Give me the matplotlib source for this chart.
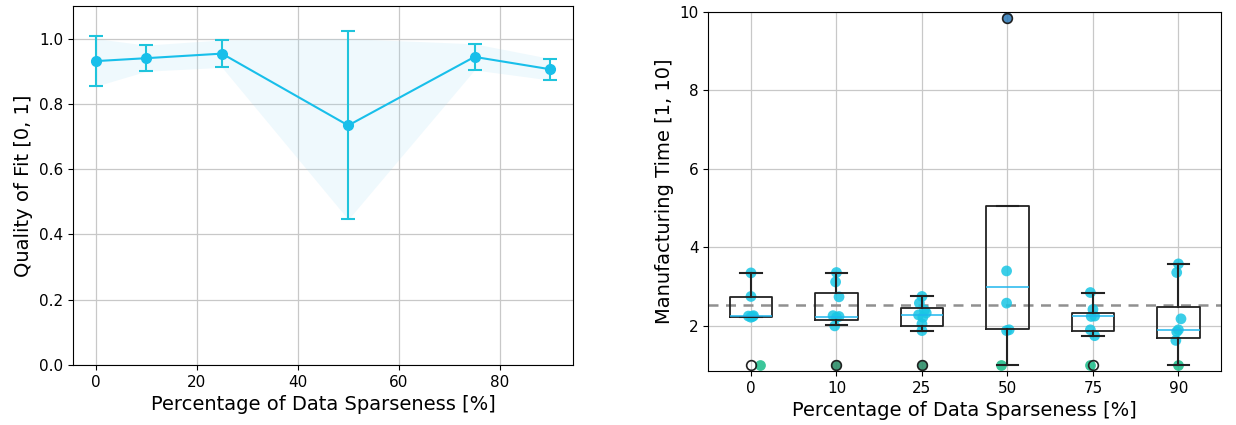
import matplotlib
matplotlib.use("Agg")
import matplotlib.pyplot as plt
import numpy as np

# ---- Left panel data: quality of fit ----
sparseness = [0, 10, 25, 50, 75, 90]
fit_mean = [0.931, 0.940, 0.954, 0.734, 0.944, 0.906]
fit_err = [0.077, 0.040, 0.042, 0.288, 0.040, 0.033]

# ---- Right panel data: manufacturing time box statistics ----
box_labels = ["0", "10", "25", "50", "75", "90"]
q1 = [2.22, 2.14, 2.00, 1.92, 1.87, 1.70]
med = [2.24, 2.23, 2.28, 2.99, 2.26, 1.90]
q3 = [2.74, 2.85, 2.45, 5.05, 2.32, 2.48]
whislo = [2.22, 2.01, 1.88, 1.00, 1.73, 1.00]
whishi = [3.35, 3.35, 2.75, 5.05, 2.85, 3.58]
fliers = [[1.0], [1.0], [1.0], [9.85], [1.0], []]

# individual runs (scatter)
points = [
    [3.35, 2.75, 2.25, 2.24, 2.22, 2.26],
    [3.36, 3.12, 2.74, 2.26, 2.24, 2.22, 2.0],
    [2.75, 2.58, 2.40, 2.33, 2.28, 2.22, 2.05, 1.88],
    [3.40, 2.58, 1.90, 1.88, 9.85],
    [2.85, 2.42, 2.25, 2.24, 1.90, 1.75],
    [3.58, 3.36, 2.18, 1.90, 1.85, 1.63],
]
jitter = [
    [0.0, 0.0, -0.03, 0.02, 0.0, 0.03],
    [0.0, -0.01, 0.03, -0.04, 0.03, 0.0, -0.02],
    [0.0, -0.03, 0.03, 0.05, -0.04, 0.01, 0.0, 0.0],
    [-0.01, -0.01, 0.02, -0.01, 0.0],
    [-0.03, 0.0, 0.02, -0.02, -0.03, 0.02],
    [0.0, -0.02, 0.03, 0.0, -0.02, -0.03],
]
low_points = [1.0, 1.0, 1.0, 1.0, 1.0, 1.0]
low_jitter = [0.1, 0.0, 0.0, -0.07, -0.03, 0.0]
baseline = 2.53

line_col = "#18bfea"
err_col = "#1fc4dc"
dot_col = "#19c6e4"

fig = plt.figure(figsize=(12.36, 4.25), dpi=100)
ax1 = fig.add_axes([0.059, 0.141, 0.4046, 0.845])
ax2 = fig.add_axes([0.573, 0.127, 0.415, 0.845])

# Left panel
x = np.array(sparseness, dtype=float)
m = np.array(fit_mean)
e = np.array(fit_err)
ax1.fill_between(x, m - e, np.minimum(m + e, 1.0), color="#9ddcf5", alpha=0.16, lw=0)
ax1.errorbar(x, m, yerr=e, color=line_col, ecolor=err_col, marker="o", markersize=7,
             capsize=5, capthick=1.5, elinewidth=1.5, lw=1.5, zorder=3)
ax1.set_ylim(0, 1.1)
ax1.set_yticks([0.0, 0.2, 0.4, 0.6, 0.8, 1.0])
ax1.set_xticks([0, 20, 40, 60, 80])
ax1.grid(True, color="#c8c8c8", lw=0.9)
ax1.set_axisbelow(True)
ax1.set_xlabel("Percentage of Data Sparseness [%]", fontsize=14)
ax1.set_ylabel("Quality of Fit [0, 1]", fontsize=14)
ax1.tick_params(labelsize=11)

# Right panel
positions = np.arange(1, len(box_labels) + 1)
stats = []
for i in range(len(box_labels)):
    stats.append(dict(q1=q1[i], med=med[i], q3=q3[i], whislo=whislo[i],
                      whishi=whishi[i], fliers=fliers[i], label=box_labels[i]))

for i, p in enumerate(positions):
    xs = p + np.array(jitter[i])
    cols = [dot_col] * len(points[i])
    if i == 3:
        cols[-1] = "#2a78b8"
    ax2.scatter(xs, points[i], s=60, color=cols, alpha=0.85, lw=0, zorder=2)
    lc = "#2e8f6a" if i in (1, 2) else "#25c08f"
    ax2.scatter([p + low_jitter[i]], [low_points[i]], s=60, color=lc, alpha=0.9, lw=0, zorder=2)

ax2.bxp(stats, positions=positions, widths=0.5,
        boxprops=dict(color="#222222", lw=1.3),
        whiskerprops=dict(color="#222222", lw=1.5),
        capprops=dict(color="#222222", lw=1.5),
        medianprops=dict(color="#1fb6ee", lw=1.1),
        flierprops=dict(marker="o", markerfacecolor="none", markeredgecolor="#222222",
                        markersize=7, markeredgewidth=1.2))
for ln in ax2.lines:
    ln.set_zorder(3)
ax2.axhline(baseline, color="#909090", ls=(0, (4, 3)), lw=1.8, zorder=1.5)
ax2.set_xlim(0.5, 6.5)
ax2.set_ylim(0.85, 10)
ax2.set_yticks([2, 4, 6, 8, 10])
ax2.set_xticks(positions)
ax2.set_xticklabels(box_labels)
ax2.grid(True, color="#c8c8c8", lw=0.9)
ax2.set_axisbelow(True)
ax2.set_xlabel("Percentage of Data Sparseness [%]", fontsize=14)
ax2.set_ylabel("Manufacturing Time [1, 10]", fontsize=14)
ax2.tick_params(labelsize=11)

fig.savefig("out.png", dpi=100)
